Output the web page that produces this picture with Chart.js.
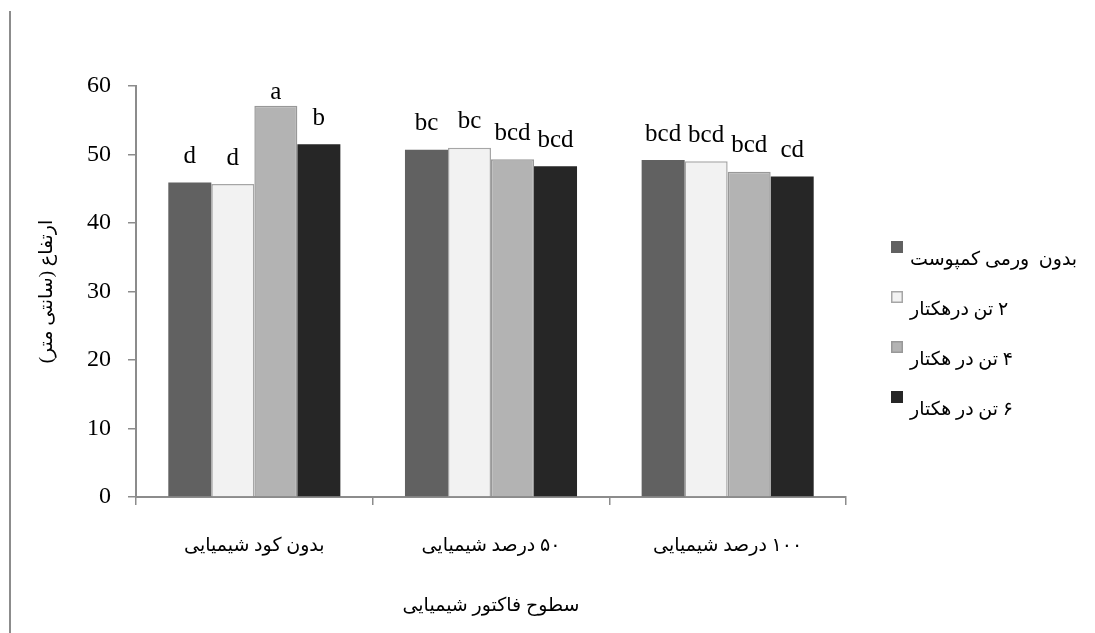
<!DOCTYPE html>
<html>
<head>
<meta charset="utf-8">
<script src="https://cdn.jsdelivr.net/npm/chart.js@4/dist/chart.umd.min.js"></script>
<style>
  html, body { margin: 0; padding: 0; background: #fff; }
  #wrap { position: relative; width: 1095px; height: 633px; }
  #wrap::before { content: ""; position: absolute; left: 9px; top: 11px; bottom: 0; width: 2px; background: #8c8c8c; }
  canvas { display: block; }
</style>
</head>
<body>
<div id="wrap"><canvas id="grafico" width="1095" height="633" dir="rtl"></canvas></div>
<script>
// categorías (سطوح کود شیمیایی) y series (ورمی کمپوست)
const categorias = ["بدون کود شیمیایی", "۵۰ درصد شیمیایی", "۱۰۰ درصد شیمیایی"];
const series = ["بدون  ورمی کمپوست", "۲ تن درهکتار", "۴ تن در هکتار", "۶ تن در هکتار"];
const sinVermi = [45.9, 50.7, 49.2];
const dosTon = [45.7, 51.0, 49.0];
const cuatroTon = [57.1, 49.3, 47.5];
const seisTon = [51.5, 48.3, 46.8];
const letras = [
  ["d", "bc", "bcd"],
  ["d", "bc", "bcd"],
  ["a", "bcd", "bcd"],
  ["b", "bcd", "cd"]
];
const ticksY = [0, 10, 20, 30, 40, 50, 60];
const tituloY = "ارتفاع (سانتی متر)";
const tituloX = "سطوح فاکتور شیمیایی";

const colores = ["#616161", "#f2f2f2", "#b3b3b3", "#262626"];
const bordes = ["#616161", "#a6a6a6", "#989898", "#262626"];
const ejeColor = "#8c8c8c";
const serif = "'Liberation Serif', 'DejaVu Serif', 'DejaVu Sans', serif";

const valores = [sinVermi, dosTon, cuatroTon, seisTon];

// etiquetas de letras sobre las barras + leyenda propia
const extras = {
  id: "extras",
  afterDatasetsDraw(chart) {
    const ctx = chart.ctx;
    const area = chart.chartArea;
    ctx.save();
    ctx.fillStyle = "#000";
    ctx.font = "25px " + serif;
    ctx.textAlign = "center";
    ctx.textBaseline = "middle";
    chart.data.datasets.forEach((ds, i) => {
      chart.getDatasetMeta(i).data.forEach((bar, j) => {
        const y = Math.max(bar.y - 26, area.top + 6);
        ctx.fillText(letras[i][j], bar.x, y);
      });
    });

    // leyenda
    ctx.font = "19px " + serif;
    ctx.textAlign = "left";
    chart.data.datasets.forEach((ds, i) => {
      const top = 241 + i * 50;
      ctx.fillStyle = ds.backgroundColor;
      ctx.fillRect(891, top, 12, 12);
      ctx.strokeStyle = ds.borderColor;
      ctx.lineWidth = 1.5;
      ctx.strokeRect(891.75, top + 0.75, 10.5, 10.5);
      ctx.fillStyle = "#000";
      ctx.fillText(ds.label, 910, top + 19);
    });
    ctx.restore();
  }
};

new Chart(document.getElementById("grafico"), {
  type: "bar",
  data: {
    labels: categorias,
    datasets: series.map((nombre, i) => ({
      label: nombre,
      data: valores[i],
      backgroundColor: colores[i],
      borderColor: bordes[i],
      borderWidth: (i === 1 || i === 2) ? 1.5 : 0,
      categoryPercentage: 0.727,
      barPercentage: 1
    }))
  },
  options: {
    responsive: false,
    animation: false,
    layout: { padding: { top: 86, right: 249, left: 0, bottom: 0 } },
    plugins: { legend: { display: false }, tooltip: { enabled: false } },
    scales: {
      x: {
        afterFit: s => { s.height = 136; },
        grid: { display: true, offset: true, drawOnChartArea: false, drawTicks: true, tickLength: 8, color: ejeColor, lineWidth: 1.5 },
        border: { display: true, color: ejeColor, width: 2 },
        ticks: { color: "#000", font: { family: serif, size: 19 }, padding: 30 },
        title: { display: true, text: tituloX, color: "#000", font: { family: serif, size: 19 }, padding: { bottom: 16 } }
      },
      y: {
        min: 0,
        max: 60,
        afterFit: s => { s.width = 136; },
        afterBuildTicks: s => { s.ticks = ticksY.map(v => ({ value: v })); },
        grid: { display: true, drawOnChartArea: false, drawTicks: true, tickLength: 8, color: ejeColor, lineWidth: 1.5 },
        border: { display: true, color: ejeColor, width: 2 },
        ticks: { color: "#000", font: { family: serif, size: 24 }, padding: 17 },
        title: { display: true, text: tituloY, color: "#000", font: { family: serif, size: 19 }, padding: { top: 36 } }
      }
    }
  },
  plugins: [extras]
});
</script>
</body>
</html>
